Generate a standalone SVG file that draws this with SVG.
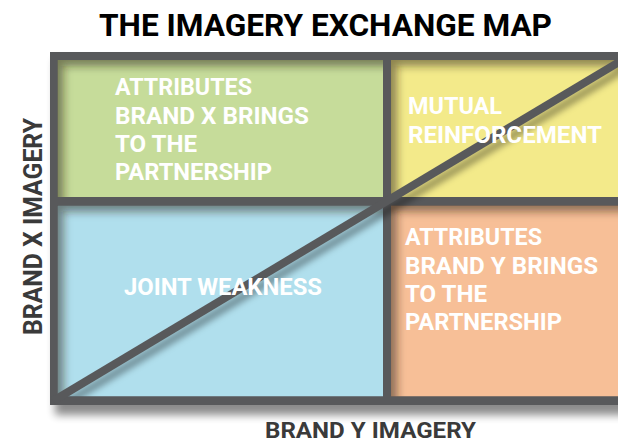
<svg xmlns="http://www.w3.org/2000/svg" width="618" height="443" viewBox="0 0 618 443">
  <style>
    .cell-label { font-family: Roboto, "Liberation Sans", sans-serif; font-weight: 700; font-size: 24px; fill: #ffffff; }
    .axis { font-family: Roboto, "Liberation Sans", sans-serif; font-weight: 700; fill: #3a3a3a; }
    .title { font-family: Roboto, "Liberation Sans", sans-serif; font-weight: 700; font-size: 32px; fill: #000000; }
    .frame { fill: #58595b; }
    .shade { fill: #2b1d12; fill-opacity: 0.5; fill-rule: evenodd; }
  </style>
  <defs>
    <filter id="soft" x="-10%" y="-10%" width="120%" height="130%">
      <feGaussianBlur stdDeviation="4"/>
    </filter>
    <filter id="lineSoft" x="-10%" y="-10%" width="120%" height="120%">
      <feGaussianBlur stdDeviation="3"/>
    </filter>
    <filter id="edgeSoft" x="-20%" y="-20%" width="140%" height="140%">
      <feGaussianBlur stdDeviation="4"/>
    </filter>
    <clipPath id="inner"><rect x="57.5" y="60" width="561" height="336.5"/></clipPath>
    <clipPath id="cTL"><rect x="57.5" y="60" width="325.5" height="137"/></clipPath>
    <clipPath id="cTR"><rect x="391" y="60" width="230" height="137"/></clipPath>
    <clipPath id="cBL"><rect x="57.5" y="205.5" width="325.5" height="191"/></clipPath>
    <clipPath id="cBR"><rect x="391" y="205.5" width="230" height="191"/></clipPath>
  </defs>

  <rect width="618" height="443" fill="#ffffff"/>

  <text class="title" x="99" y="36" textLength="453" lengthAdjust="spacingAndGlyphs">THE IMAGERY EXCHANGE MAP</text>

  <!-- frame with its drop shadow -->
  <g id="frame">
    <rect x="55" y="60" width="580" height="355" fill="#000" opacity="0.45" filter="url(#soft)"/>
    <rect class="frame" x="50" y="52" width="580" height="353"/>
  </g>

  <!-- quadrants: fill plus a soft shade along the top and left edges -->
  <g id="brand-x" clip-path="url(#cTL)">
    <rect x="57.5" y="60" width="325.5" height="137" fill="#c6dc9a"/>
    <path class="shade" filter="url(#edgeSoft)" d="M30 30H420V230H30Z M63.5 66H420V230H63.5Z"/>
  </g>
  <g id="mutual" clip-path="url(#cTR)">
    <rect x="391" y="60" width="230" height="137" fill="#f3ea8a"/>
    <path class="shade" filter="url(#edgeSoft)" d="M360 30H660V230H360Z M397 66H660V230H397Z"/>
  </g>
  <g id="joint-weakness" clip-path="url(#cBL)">
    <rect x="57.5" y="205.5" width="325.5" height="191" fill="#b0dfed"/>
    <path class="shade" filter="url(#edgeSoft)" d="M30 175H420V430H30Z M63.5 211.5H420V430H63.5Z"/>
  </g>
  <g id="brand-y" clip-path="url(#cBR)">
    <rect x="391" y="205.5" width="230" height="191" fill="#f7bf97"/>
    <path class="shade" filter="url(#edgeSoft)" d="M360 175H660V430H360Z M397 211.5H660V430H397Z"/>
  </g>

  <g id="connectors">
    <g clip-path="url(#inner)">
      <line x1="59" y1="407" x2="629" y2="66" stroke="#000" stroke-opacity="0.35" stroke-width="8" filter="url(#lineSoft)"/>
    </g>
    <line x1="53" y1="401" x2="624" y2="59" stroke="#58595b" stroke-width="8"/>
  </g>

  <!-- quadrant labels -->
  <g class="cell-label">
    <text x="115" y="95" textLength="137" lengthAdjust="spacingAndGlyphs">ATTRIBUTES</text>
    <text x="115" y="123.5" textLength="194" lengthAdjust="spacingAndGlyphs">BRAND X BRINGS</text>
    <text x="115" y="152" textLength="82" lengthAdjust="spacingAndGlyphs">TO THE</text>
    <text x="115" y="180" textLength="157" lengthAdjust="spacingAndGlyphs">PARTNERSHIP</text>

    <text x="408" y="113.5" textLength="94" lengthAdjust="spacingAndGlyphs">MUTUAL</text>
    <text x="408" y="142.5" textLength="194" lengthAdjust="spacingAndGlyphs">REINFORCEMENT</text>

    <text x="124" y="295" textLength="198" lengthAdjust="spacingAndGlyphs">JOINT WEAKNESS</text>

    <text x="405" y="245" textLength="137" lengthAdjust="spacingAndGlyphs">ATTRIBUTES</text>
    <text x="405" y="273.5" textLength="193" lengthAdjust="spacingAndGlyphs">BRAND Y BRINGS</text>
    <text x="405" y="302" textLength="82" lengthAdjust="spacingAndGlyphs">TO THE</text>
    <text x="405" y="330" textLength="157" lengthAdjust="spacingAndGlyphs">PARTNERSHIP</text>
  </g>

  <!-- axis labels -->
  <text class="axis" x="265" y="438" font-size="22" textLength="211" lengthAdjust="spacingAndGlyphs">BRAND Y IMAGERY</text>
  <text class="axis" transform="translate(41.5,335) rotate(-90)" x="0" y="0" font-size="26" textLength="217" lengthAdjust="spacingAndGlyphs">BRAND X IMAGERY</text>
</svg>
